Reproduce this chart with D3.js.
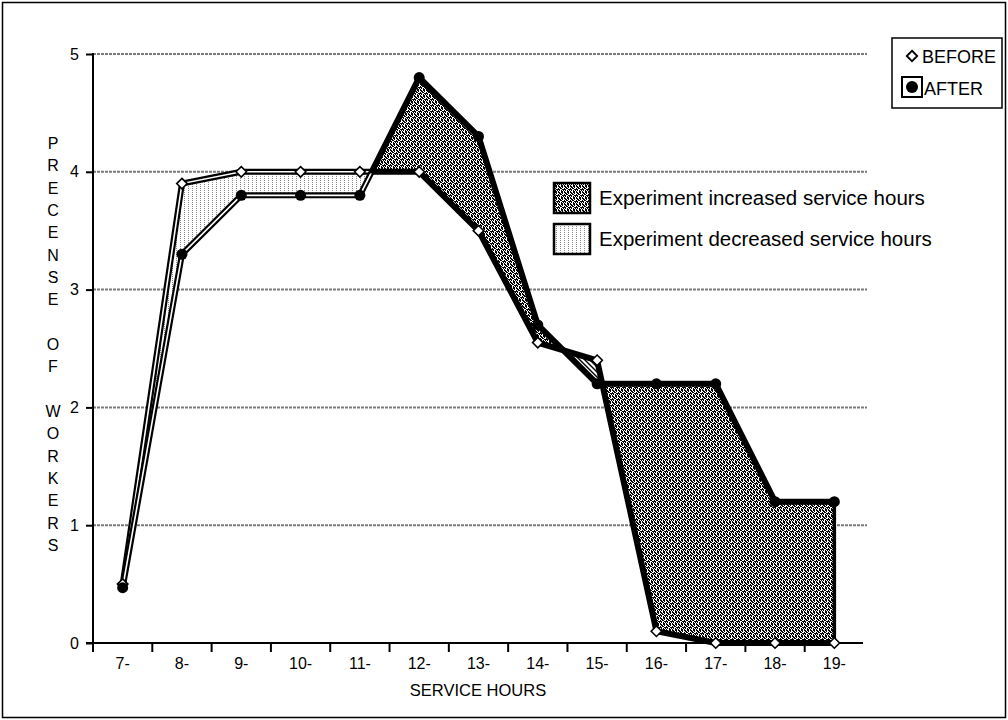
<!DOCTYPE html>
<html>
<head>
<meta charset="utf-8">
<script src="https://cdn.jsdelivr.net/npm/d3@7"></script>
<style>
  html, body { margin: 0; padding: 0; background: #fff; }
  svg { display: block; font-family: "Liberation Sans", Arial, sans-serif; }
</style>
</head>
<body>
<svg id="chart" width="1008" height="720"></svg>
<script>
// Hourly presence of workers, before and after the experiment
const categories = ["7-", "8-", "9-", "10-", "11-", "12-", "13-", "14-", "15-", "16-", "17-", "18-", "19-"];
const before = [0.5, 3.9, 4.0, 4.0, 4.0, 4.0, 3.5, 2.55, 2.4, 0.1, 0, 0, 0];
const after  = [0.47, 3.3, 3.8, 3.8, 3.8, 4.8, 4.3, 2.7, 2.2, 2.2, 2.2, 1.2, 1.2];
const yTicks = [0, 1, 2, 3, 4, 5];
const yTitle = "PRECENSE OF WORKERS";
const xTitle = "SERVICE HOURS";
const seriesNames = ["BEFORE", "AFTER"];
const areaLabels = ["Experiment increased service hours", "Experiment decreased service hours"];
// fill used for each successive gap region between the two series
const regionFills = ["dots", "grain", "hatch", "grain"];

const svg = d3.select("#chart");
const W = 1008, H = 720;
const plot = { left: 93, right: 864, top: 54, bottom: 643 };
const FONT = "Liberation Sans, Arial, sans-serif";

// frame
svg.append("rect").attr("x", 2.5).attr("y", 2.5).attr("width", W - 5).attr("height", H - 5)
  .attr("fill", "#fff").attr("stroke", "#000").attr("stroke-width", 1.5);

// ---- patterns ----
const defs = svg.append("defs");
function bitmapPattern(id, rows, color, bg) {
  const h = rows.length, w = rows[0].length;
  const p = defs.append("pattern").attr("id", id).attr("patternUnits", "userSpaceOnUse")
    .attr("width", w).attr("height", h);
  p.append("rect").attr("width", w).attr("height", h).attr("fill", bg);
  rows.forEach((r, j) => r.split("").forEach((c, i) => {
    if (c === "X") p.append("rect").attr("x", i).attr("y", j).attr("width", 1).attr("height", 1)
      .attr("fill", color).attr("shape-rendering", "crispEdges");
  }));
}
bitmapPattern("grain", [
  "XX.XX.",
  ".XX.X.",
  "X.XX..",
  "XX..XX",
  ".X.X.X",
  "X..XX."
], "#000", "#fff");
bitmapPattern("dots", [
  "X...",
  "...."
], "#8a8a8a", "#fff");
const hatch = defs.append("pattern").attr("id", "hatch").attr("patternUnits", "userSpaceOnUse")
  .attr("width", 5).attr("height", 5);
hatch.append("rect").attr("width", 5).attr("height", 5).attr("fill", "#fff");
hatch.append("path").attr("d", "M-1,-1L6,6M-1,4L1,6M4,-1L6,1").attr("stroke", "#000").attr("stroke-width", 1.4);

// ---- scales ----
const x = d3.scaleBand().domain(categories).range([plot.left, plot.right]).padding(0);
const bw = x.bandwidth();
const xi = d3.scaleLinear().domain([0, categories.length - 1])
  .range([x(categories[0]) + bw / 2, x(categories[categories.length - 1]) + bw / 2]);
const y = d3.scaleLinear().domain([0, 5]).range([plot.bottom, plot.top]);

// ---- gridlines ----
svg.append("g").selectAll("line").data(yTicks.filter(d => d > 0)).join("line")
  .attr("x1", plot.left).attr("x2", plot.right + 3)
  .attr("y1", d => y(d)).attr("y2", d => y(d))
  .attr("stroke", "#7a7a7a").attr("stroke-width", 2).attr("stroke-dasharray", "3,1");

// ---- gap regions between the series, split where they cross ----
const regions = [];
(function buildRegions() {
  let cur = null;
  const push = (t, b, a, s) => {
    if (!cur || cur.sign !== s) {
      if (cur) { cur.pts.push({ t, b, a }); regions.push(cur); }
      cur = { sign: s, pts: [] };
    }
    cur.pts.push({ t, b, a });
  };
  for (let i = 0; i < categories.length; i++) {
    const d = after[i] - before[i];
    const s = d >= 0 ? 1 : -1;
    if (i > 0) {
      const dp = after[i - 1] - before[i - 1];
      if ((dp >= 0) !== (d >= 0)) {
        const f = dp / (dp - d);
        const v = before[i - 1] + f * (before[i] - before[i - 1]);
        push(i - 1 + f, v, v, s);
      }
    }
    push(i, before[i], after[i], s);
  }
  if (cur) regions.push(cur);
})();

const regionPath = r => {
  const top = r.pts.map(p => [xi(p.t), y(p.a)]);
  const bot = r.pts.slice().reverse().map(p => [xi(p.t), y(p.b)]);
  return "M" + top.concat(bot).map(p => p.join(",")).join("L") + "Z";
};
const gRegions = svg.append("g");
regions.forEach((r, k) => {
  gRegions.append("path").attr("d", regionPath(r))
    .attr("fill", `url(#${regionFills[k % regionFills.length]})`).attr("stroke", "none");
});

// ---- series lines (double rule) ----
const line = d3.line().x((d, i) => xi(i)).y(d => y(d));
[before, after].forEach(series => {
  svg.append("path").attr("d", line(series)).attr("fill", "none")
    .attr("stroke", "#000").attr("stroke-width", 6).attr("stroke-linejoin", "miter");
  svg.append("path").attr("d", line(series)).attr("fill", "none")
    .attr("stroke", "#fff").attr("stroke-width", 1.6).attr("stroke-linejoin", "miter");
});

// outlines of the shaded regions drawn over the double rules
regions.forEach((r, k) => {
  if (regionFills[k % regionFills.length] !== "dots") {
    svg.append("path").attr("d", regionPath(r))
      .attr("fill", "none").attr("stroke", "#000").attr("stroke-width", 3.5)
      .attr("stroke-linejoin", "miter");
  }
});

// ---- axes ----
const yAxis = svg.append("g").attr("transform", `translate(${plot.left},0)`)
  .call(d3.axisLeft(y).tickValues(yTicks).tickSize(7).tickPadding(7).tickFormat(d3.format("d")));
yAxis.select(".domain").remove();
yAxis.selectAll(".tick line").attr("stroke", "#000").attr("stroke-width", 2);
yAxis.selectAll("text").attr("font-size", 16).attr("fill", "#000").attr("font-family", FONT);
svg.append("line").attr("x1", plot.left).attr("x2", plot.left)
  .attr("y1", plot.top - 1).attr("y2", plot.bottom).attr("stroke", "#000").attr("stroke-width", 2);

// x axis: boundary ticks between hours, labels centred in each hour
svg.append("line").attr("x1", plot.left - 7).attr("x2", plot.right - 1)
  .attr("y1", plot.bottom).attr("y2", plot.bottom).attr("stroke", "#000").attr("stroke-width", 2);
const edges = categories.map(c => x(c));
svg.append("g").selectAll("line").data(edges).join("line")
  .attr("x1", d => d).attr("x2", d => d)
  .attr("y1", plot.bottom).attr("y2", plot.bottom + 9)
  .attr("stroke", "#000").attr("stroke-width", 2);
const xAxis = svg.append("g").attr("transform", `translate(0,${plot.bottom})`)
  .call(d3.axisBottom(x).tickSize(0).tickPadding(15));
xAxis.select(".domain").remove();
xAxis.selectAll("text").attr("font-size", 16).attr("fill", "#000").attr("font-family", FONT);

svg.append("text").attr("x", 478).attr("y", 696).attr("text-anchor", "middle")
  .attr("font-size", 16.5).text(xTitle);

// stacked vertical title
const letters = yTitle.split("");
const yTitleScale = d3.scaleLinear().domain([0, letters.length - 1]).range([149, 551]);
svg.append("g").selectAll("text").data(letters).join("text")
  .attr("x", 53).attr("y", (d, i) => yTitleScale(i))
  .attr("text-anchor", "middle").attr("font-size", 16).text(d => d);

// ---- markers ----
const diamond = d3.symbol().type(d3.symbolDiamond2).size(70);
svg.append("g").selectAll("path").data(before).join("path")
  .attr("transform", (d, i) => `translate(${xi(i)},${y(d)})`)
  .attr("d", diamond).attr("fill", "#fff").attr("stroke", "#000").attr("stroke-width", 1.6);
svg.append("g").selectAll("circle").data(after).join("circle")
  .attr("cx", (d, i) => xi(i)).attr("cy", d => y(d)).attr("r", 5.5).attr("fill", "#000");

// ---- series legend ----
const lg = svg.append("g");
lg.append("rect").attr("x", 892).attr("y", 38).attr("width", 110).attr("height", 70)
  .attr("fill", "#fff").attr("stroke", "#000").attr("stroke-width", 1.5);
lg.append("path").attr("transform", "translate(912,56)").attr("d", diamond)
  .attr("fill", "#fff").attr("stroke", "#000").attr("stroke-width", 1.8);
lg.append("text").attr("x", 922).attr("y", 63).attr("font-size", 18).text(seriesNames[0]);
lg.append("rect").attr("x", 902).attr("y", 77).attr("width", 20).attr("height", 20)
  .attr("fill", "#fff").attr("stroke", "#000").attr("stroke-width", 2);
lg.append("circle").attr("cx", 912).attr("cy", 87).attr("r", 6).attr("fill", "#000");
lg.append("text").attr("x", 924).attr("y", 95).attr("font-size", 18).text(seriesNames[1]);

// ---- shading legend ----
const al = svg.append("g");
["grain", "dots"].forEach((f, i) => {
  al.append("rect").attr("x", 554).attr("y", 183 + i * 41).attr("width", 36).attr("height", 30)
    .attr("fill", `url(#${f})`).attr("stroke", "#000").attr("stroke-width", 2.5);
  al.append("text").attr("x", 599).attr("y", 205 + i * 41).attr("font-size", 20.5).text(areaLabels[i]);
});
</script>
</body>
</html>
